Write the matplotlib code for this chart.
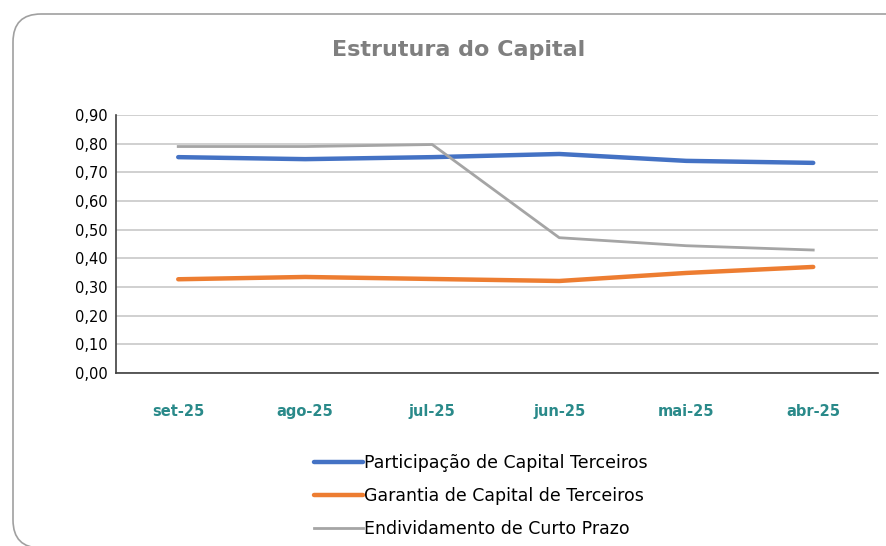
import matplotlib.pyplot as plt
import numpy as np
from matplotlib.patches import FancyBboxPatch
from matplotlib.ticker import FuncFormatter

# COLORS
BLUE_COLOR = "#4472C4"
ORANGE_COLOR = "#ED7D31"
GRAY_COLOR = "#A5A5A5"
TEAL_COLOR = "#2A8A8A"
TITLE_COLOR = "#7F7F7F"

# ==========================
# DATA
# ==========================

months = ["set-25", "ago-25", "jul-25", "jun-25", "mai-25", "abr-25"]

participacao = [0.753, 0.746, 0.753, 0.764, 0.740, 0.733]
garantia = [0.327, 0.335, 0.328, 0.321, 0.349, 0.370]
endividamento = [0.790, 0.790, 0.797, 0.472, 0.444, 0.429]

y_ticks = [0.0, 0.1, 0.2, 0.3, 0.4, 0.5, 0.6, 0.7, 0.8, 0.9]

# ==========================
# FIGURE
# ==========================

fig = plt.figure(figsize=(8.86, 5.46), dpi=100)

# rounded chart border (runs off the right and bottom edges)
border = FancyBboxPatch(
    (0.13, -0.02), 9.5, 5.34,
    boxstyle="round,pad=0,rounding_size=0.28",
    transform=fig.dpi_scale_trans,
    facecolor="none",
    edgecolor="#A0A0A0",
    linewidth=1.2,
    zorder=-1,
)
fig.patches.append(border)

ax = fig.add_axes([116 / 886, 1 - 373 / 546, 762 / 886, 258 / 546])
ax.set_facecolor("none")

x = np.arange(len(months))

ax.plot(x, participacao, color=BLUE_COLOR, linewidth=3.2,
        solid_capstyle="round", label="Participação de Capital Terceiros", zorder=3)
ax.plot(x, garantia, color=ORANGE_COLOR, linewidth=3.2,
        solid_capstyle="round", label="Garantia de Capital de Terceiros", zorder=3)
ax.plot(x, endividamento, color=GRAY_COLOR, linewidth=2.0,
        label="Endividamento de Curto Prazo", zorder=3)

ax.set_xlim(-0.49, 5.51)
ax.set_ylim(0, 0.9)
ax.set_yticks(y_ticks)
ax.yaxis.set_major_formatter(FuncFormatter(lambda v, pos: f"{v:.2f}".replace(".", ",")))

ax.set_xticks(x)
ax.set_xticklabels(months, color=TEAL_COLOR, fontweight="bold", fontsize=10.5)
ax.tick_params(axis="x", length=0, pad=22)
ax.tick_params(axis="y", length=0, labelsize=10.5, pad=6)

ax.grid(axis="y", color="#C8C8C8", linewidth=1.2)
ax.set_axisbelow(True)

for side in ["top", "right"]:
    ax.spines[side].set_visible(False)
ax.spines["left"].set_color("#404040")
ax.spines["bottom"].set_color("#404040")
ax.spines["left"].set_linewidth(1.2)
ax.spines["bottom"].set_linewidth(1.2)

fig.text(459 / 886, 1 - 50 / 546, "Estrutura do Capital",
         ha="center", va="center", fontsize=16, fontweight="bold",
         color=TITLE_COLOR)

fig.legend(
    loc="center",
    bbox_to_anchor=(481 / 886, 1 - 496 / 546),
    frameon=False,
    fontsize=12.5,
    handlelength=2.8,
    handletextpad=0.1,
    labelspacing=0.85,
)

plt.savefig("out.png", dpi=100)
plt.close()
